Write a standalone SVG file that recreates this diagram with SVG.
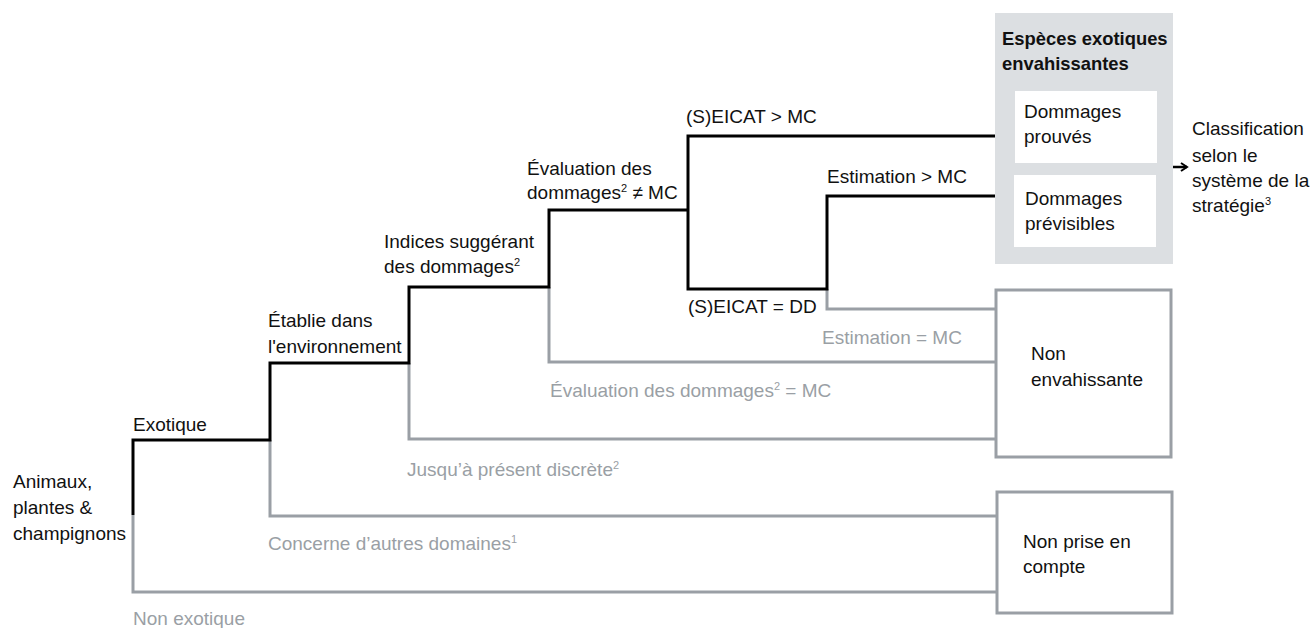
<svg xmlns="http://www.w3.org/2000/svg" width="1312" height="628" viewBox="0 0 1312 628">
<style>
text{font-family:"Liberation Sans",Arial,sans-serif;font-size:19px;fill:#111}
.g{fill:#9a9fa5}
.b{font-weight:bold;font-size:18.4px}
.yes{fill:none;stroke:#000;stroke-width:3}
.no{fill:none;stroke:#9a9fa5;stroke-width:3}
.box{fill:#fff;stroke:#9a9fa5;stroke-width:3}
.sup{font-size:11px}
</style>
<defs>
<marker id="arr" markerWidth="10" markerHeight="10" refX="8" refY="5" orient="auto" markerUnits="userSpaceOnUse">
<path d="M2,1 L8,5 L2,9" fill="none" stroke="#000" stroke-width="2"/>
</marker>
</defs>
<rect width="1312" height="628" fill="#fff"/>
<g id="connectors">
<path class="no" d="M133,515 V592 H997"/>
<path class="no" d="M270,440 V516 H997"/>
<path class="no" d="M409,363 V439 H995"/>
<path class="no" d="M549,287 V362 H995"/>
<path class="no" d="M827,289 V309 H995"/>
<path class="yes" d="M133,515 V440 H270 V363 H409 V287 H549 V210 H688"/>
<path class="yes" d="M688,210 V136 H1015"/>
<path class="yes" d="M688,210 V289 H827 V196 H1014"/>
<path d="M1162,167 H1187" stroke="#000" stroke-width="2.5" marker-end="url(#arr)"/>
</g>
<g id="labels">
<text x="13" y="488">Animaux,</text>
<text x="13" y="514">plantes &amp;</text>
<text x="13" y="540">champignons</text>
<text x="133" y="431">Exotique</text>
<text class="g" x="133" y="625">Non exotique</text>
<text x="268" y="327">Établie dans</text>
<text x="268" y="353">l'environnement</text>
<text class="g" x="268" y="550">Concerne d’autres domaines<tspan class="sup" dy="-7">1</tspan></text>
<text x="384" y="248">Indices suggérant</text>
<text x="384" y="273">des dommages<tspan class="sup" dy="-7">2</tspan></text>
<text class="g" x="407" y="476">Jusqu’à présent discrète<tspan class="sup" dy="-7">2</tspan></text>
<text x="527" y="175">Évaluation des</text>
<text x="527" y="199">dommages<tspan class="sup" dy="-7">2</tspan><tspan dy="7"> ≠ MC</tspan></text>
<text class="g" x="550" y="397">Évaluation des dommages<tspan class="sup" dy="-7">2</tspan><tspan dy="7"> = MC</tspan></text>
<text x="686" y="123">(S)EICAT &gt; MC</text>
<text x="688" y="313">(S)EICAT = DD</text>
<text x="827" y="183">Estimation &gt; MC</text>
<text class="g" x="822" y="344">Estimation = MC</text>
<text x="1192" y="135">Classification</text>
<text x="1192" y="162">selon le</text>
<text x="1192" y="187">système de la</text>
<text x="1192" y="212">stratégie<tspan class="sup" dy="-7">3</tspan></text>
</g>
<g id="invasive">
<rect x="995" y="13" width="178" height="251" fill="#dcdfe2"/>
<text class="b" x="1002" y="45">Espèces exotiques</text>
<text class="b" x="1002" y="70">envahissantes</text>
</g>
<g id="proven">
<rect x="1015" y="91" width="142" height="72" fill="#fff"/>
<text x="1024" y="118">Dommages</text>
<text x="1024" y="143">prouvés</text>
</g>
<g id="foreseeable">
<rect x="1014" y="175" width="142" height="72" fill="#fff"/>
<text x="1025" y="205">Dommages</text>
<text x="1025" y="230">prévisibles</text>
</g>
<g id="noninvasive">
<rect class="box" x="996" y="290" width="175" height="167"/>
<text x="1031" y="360">Non</text>
<text x="1031" y="386">envahissante</text>
</g>
<g id="notconsidered">
<rect class="box" x="997" y="492" width="175" height="121"/>
<text x="1023" y="548">Non prise en</text>
<text x="1023" y="573">compte</text>
</g>
</svg>
